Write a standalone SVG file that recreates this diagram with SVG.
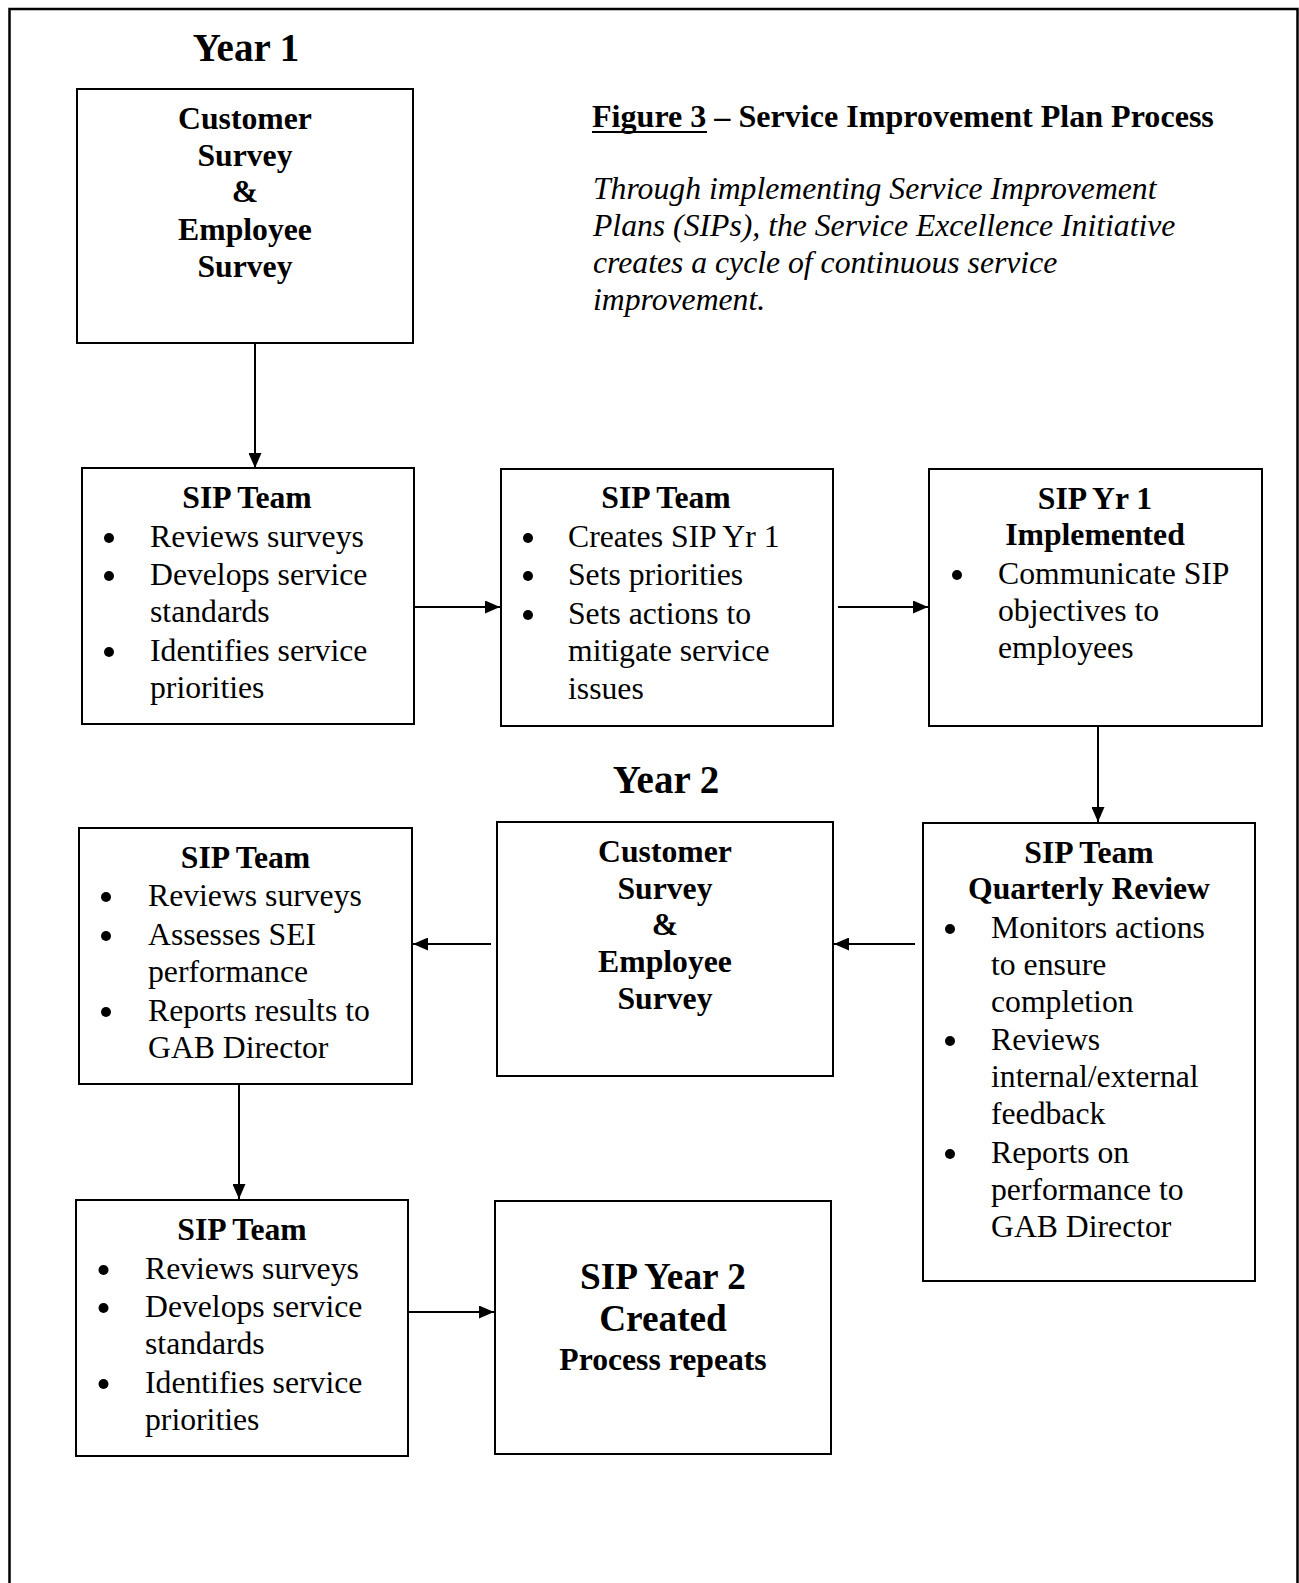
<svg xmlns="http://www.w3.org/2000/svg" width="1299" height="1583" viewBox="0 0 1299 1583">
<style>
text{font-family:"Liberation Serif","Times New Roman",serif;fill:#000}
.b{font-weight:bold;font-size:31.7px}
.c{text-anchor:middle}
.r{font-size:31.7px}
.i{font-size:31.7px;font-style:italic}
.y{font-weight:bold;font-size:39px;text-anchor:middle}
.big{font-weight:bold;font-size:37.3px;text-anchor:middle}
.box{fill:#fff;stroke:#000;stroke-width:2}
.dot{fill:#000}
.con{fill:none;stroke:#000;stroke-width:2}
</style>
<defs>
<marker id="ah" markerUnits="userSpaceOnUse" viewBox="0 0 15 13" refX="15" refY="6.5" markerWidth="15" markerHeight="13" orient="auto">
<path d="M0,0 L15,6.5 L0,13 Z" fill="#000"/>
</marker>
</defs>
<rect width="1299" height="1583" fill="#fff"/>
<path d="M9.5,1590 V9 H1297.5 V1590" fill="none" stroke="#000" stroke-width="2.5"/>

<g id="labels">
<text class="y" x="246" y="61">Year 1</text>
<text class="y" x="666" y="793">Year 2</text>
<text class="b" x="592" y="127" style="font-size:32.1px">Figure 3 – Service Improvement Plan Process</text>
<line x1="592" y1="132" x2="707" y2="132" stroke="#000" stroke-width="2.2"/>
<text class="i" x="593" y="198.5">Through implementing Service Improvement</text>
<text class="i" x="593" y="235.5">Plans (SIPs), the Service Excellence Initiative</text>
<text class="i" x="593" y="272.5">creates a cycle of continuous service</text>
<text class="i" x="593" y="309.5">improvement.</text>
</g>

<g id="connectors">
<path class="con" d="M255,344 V468" marker-end="url(#ah)"/>
<path class="con" d="M415,607 H500" marker-end="url(#ah)"/>
<path class="con" d="M838,607 H928" marker-end="url(#ah)"/>
<path class="con" d="M1098,727 V822" marker-end="url(#ah)"/>
<path class="con" d="M915,944 H834" marker-end="url(#ah)"/>
<path class="con" d="M491,944 H413" marker-end="url(#ah)"/>
<path class="con" d="M239,1085 V1199" marker-end="url(#ah)"/>
<path class="con" d="M409,1312 H494" marker-end="url(#ah)"/>
</g>

<g id="survey1">
<rect class="box" x="77" y="89" width="336" height="254"/>
<text class="b c" x="245" y="129">Customer</text>
<text class="b c" x="245" y="166">Survey</text>
<text class="b c" x="245" y="202">&amp;</text>
<text class="b c" x="245" y="240">Employee</text>
<text class="b c" x="245" y="277">Survey</text>
</g>

<g id="team1">
<rect class="box" x="82" y="468" width="332" height="256"/>
<text class="b c" x="247" y="508">SIP Team</text>
<circle class="dot" cx="109" cy="538" r="5"/>
<text class="r" x="150" y="547">Reviews surveys</text>
<circle class="dot" cx="109" cy="576" r="5"/>
<text class="r" x="150" y="585">Develops service</text>
<text class="r" x="150" y="622">standards</text>
<circle class="dot" cx="109" cy="652" r="5"/>
<text class="r" x="150" y="661">Identifies service</text>
<text class="r" x="150" y="698">priorities</text>
</g>

<g id="team2">
<rect class="box" x="501" y="469" width="332" height="257"/>
<text class="b c" x="666" y="508">SIP Team</text>
<circle class="dot" cx="528" cy="538" r="5"/>
<text class="r" x="568" y="547">Creates SIP Yr 1</text>
<circle class="dot" cx="528" cy="576" r="5"/>
<text class="r" x="568" y="585">Sets priorities</text>
<circle class="dot" cx="528" cy="615" r="5"/>
<text class="r" x="568" y="624">Sets actions to</text>
<text class="r" x="568" y="661">mitigate service</text>
<text class="r" x="568" y="699">issues</text>
</g>

<g id="implemented">
<rect class="box" x="929" y="469" width="333" height="257"/>
<text class="b c" x="1095" y="509">SIP Yr 1</text>
<text class="b c" x="1095" y="545">Implemented</text>
<circle class="dot" cx="957" cy="575" r="5"/>
<text class="r" x="998" y="584">Communicate SIP</text>
<text class="r" x="998" y="621">objectives to</text>
<text class="r" x="998" y="658">employees</text>
</g>

<g id="quarterly">
<rect class="box" x="923" y="823" width="332" height="458"/>
<text class="b c" x="1089" y="863">SIP Team</text>
<text class="b c" x="1089" y="899">Quarterly Review</text>
<circle class="dot" cx="950" cy="929" r="5"/>
<text class="r" x="991" y="938">Monitors actions</text>
<text class="r" x="991" y="975">to ensure</text>
<text class="r" x="991" y="1012">completion</text>
<circle class="dot" cx="950" cy="1041" r="5"/>
<text class="r" x="991" y="1050">Reviews</text>
<text class="r" x="991" y="1087">internal/external</text>
<text class="r" x="991" y="1124">feedback</text>
<circle class="dot" cx="950" cy="1154" r="5"/>
<text class="r" x="991" y="1163">Reports on</text>
<text class="r" x="991" y="1200">performance to</text>
<text class="r" x="991" y="1237">GAB Director</text>
</g>

<g id="survey2">
<rect class="box" x="497" y="822" width="336" height="254"/>
<text class="b c" x="665" y="862">Customer</text>
<text class="b c" x="665" y="899">Survey</text>
<text class="b c" x="665" y="935">&amp;</text>
<text class="b c" x="665" y="972">Employee</text>
<text class="b c" x="665" y="1009">Survey</text>
</g>

<g id="team3">
<rect class="box" x="79" y="828" width="333" height="256"/>
<text class="b c" x="245.5" y="868">SIP Team</text>
<circle class="dot" cx="106" cy="897" r="5"/>
<text class="r" x="148" y="906">Reviews surveys</text>
<circle class="dot" cx="106" cy="936" r="5"/>
<text class="r" x="148" y="945">Assesses SEI</text>
<text class="r" x="148" y="982">performance</text>
<circle class="dot" cx="106" cy="1012" r="5"/>
<text class="r" x="148" y="1021">Reports results to</text>
<text class="r" x="148" y="1058">GAB Director</text>
</g>

<g id="team4">
<rect class="box" x="76" y="1200" width="332" height="256"/>
<text class="b c" x="242" y="1240">SIP Team</text>
<circle class="dot" cx="103.5" cy="1270" r="5"/>
<text class="r" x="145" y="1279">Reviews surveys</text>
<circle class="dot" cx="103.5" cy="1308" r="5"/>
<text class="r" x="145" y="1317">Develops service</text>
<text class="r" x="145" y="1354">standards</text>
<circle class="dot" cx="103.5" cy="1384" r="5"/>
<text class="r" x="145" y="1393">Identifies service</text>
<text class="r" x="145" y="1430">priorities</text>
</g>

<g id="year2plan">
<rect class="box" x="495" y="1201" width="336" height="253"/>
<text class="big" x="663" y="1289">SIP Year 2</text>
<text class="big" x="663" y="1331">Created</text>
<text class="b c" x="663" y="1370">Process repeats</text>
</g>
</svg>
